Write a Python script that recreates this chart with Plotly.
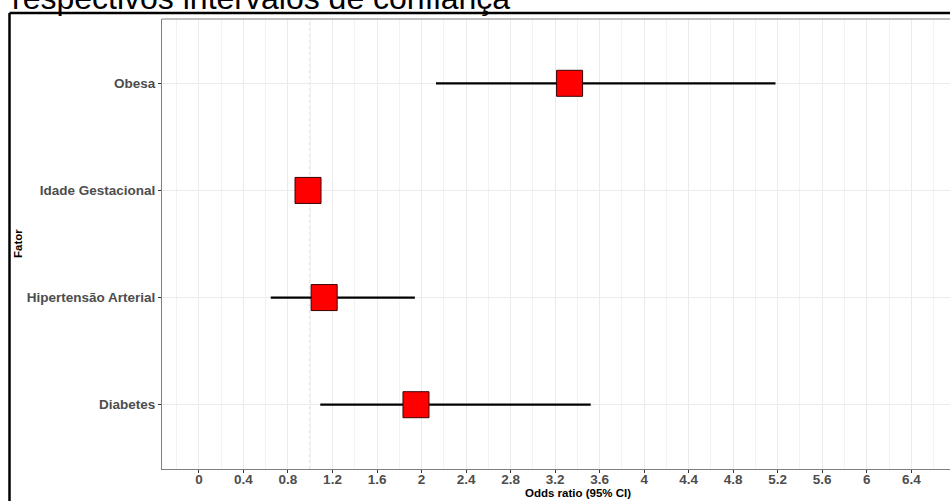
import plotly.graph_objects as go

# ---- data ----
factors = ["Diabetes", "Hipertensão Arterial", "Idade Gestacional", "Obesa"]
odds_ratio = [1.95, 1.125, 0.98, 3.33]
ci_low = [1.09, 0.645, 0.95, 2.13]
ci_high = [3.52, 1.94, 1.02, 5.18]
x_ticks = [0, 0.4, 0.8, 1.2, 1.6, 2, 2.4, 2.8, 3.2, 3.6, 4, 4.4, 4.8, 5.2, 5.6, 6, 6.4]
x_tick_labels = ["0", "0.4", "0.8", "1.2", "1.6", "2", "2.4", "2.8", "3.2", "3.6",
                 "4", "4.4", "4.8", "5.2", "5.6", "6", "6.4"]
title_text = "respectivos intervalos de confiança"
x_title = "Odds ratio (95% CI)"
y_title = "Fator"

W, H = 950, 501
L, R, T, B = 162, 0, 19, 32
pw, ph = W - L - R, H - T - B


def px_x(p):
    return (p - L) / pw


def px_y(p):
    return (H - B - p) / ph


fig = go.Figure()
fig.add_trace(go.Scatter(
    x=odds_ratio, y=factors, mode="markers",
    marker=dict(symbol="square", size=26, color="#ff0000",
                line=dict(color="#3a0000", width=1)),
    error_x=dict(type="data", symmetric=False,
                 array=[h - o for h, o in zip(ci_high, odds_ratio)],
                 arrayminus=[o - l for o, l in zip(odds_ratio, ci_low)],
                 color="black", thickness=2.2, width=0),
    showlegend=False, cliponaxis=False,
))

fig.add_vline(x=1, line=dict(color="#999999", width=1, dash="dot"), layer="below")

font_fam = "Liberation Sans, Arial, sans-serif"
fig.update_layout(
    width=W, height=H,
    margin=dict(l=L, r=R, t=T, b=B),
    paper_bgcolor="white", plot_bgcolor="white",
    font=dict(family=font_fam),
    xaxis=dict(
        range=[-0.332, 6.748], tickvals=x_ticks, ticktext=x_tick_labels,
        showgrid=True, gridcolor="#ebebeb", gridwidth=1,
        minor=dict(dtick=0.2, tick0=0, showgrid=True, gridcolor="#f2f2f2", gridwidth=1),
        showline=True, linecolor="#808080", linewidth=1,
        ticks="outside", ticklen=3, tickcolor="#333333",
        ticklabelstandoff=-5,
        tickfont=dict(family=font_fam, size=13.5, color="#4d4d4d", weight="bold"),
        zeroline=False,
    ),
    yaxis=dict(
        type="category", categoryorder="array", categoryarray=factors,
        range=[-0.6, 3.6],
        showgrid=True, gridcolor="#ebebeb", gridwidth=1,
        showline=True, linecolor="#808080", linewidth=1,
        ticks="outside", ticklen=3, tickcolor="#333333",
        tickfont=dict(family=font_fam, size=13.5, color="#4d4d4d", weight="bold"),
        zeroline=False,
    ),
)

# top panel border
fig.add_shape(type="line", xref="paper", yref="paper", x0=0, x1=1, y0=1, y1=1,
              line=dict(color="#808080", width=1))
# outer black frame (cropped)
fig.add_shape(type="line", xref="paper", yref="paper",
              x0=px_x(9.5), x1=px_x(960), y0=px_y(13), y1=px_y(13),
              line=dict(color="black", width=2.5))
fig.add_shape(type="line", xref="paper", yref="paper",
              x0=px_x(9.5), x1=px_x(9.5), y0=px_y(13), y1=px_y(510),
              line=dict(color="black", width=2.5))

# cropped title
fig.add_annotation(text=title_text, xref="paper", yref="paper",
                   x=px_x(10), y=px_y(18), xanchor="left", yanchor="bottom",
                   showarrow=False, font=dict(family=font_fam, size=32, color="black"))
# axis titles
fig.add_annotation(text=x_title, xref="paper", yref="paper",
                   x=px_x(578), y=px_y(493), xanchor="center", yanchor="middle",
                   showarrow=False,
                   font=dict(family=font_fam, size=11.5, color="black", weight="bold"))
fig.add_annotation(text=y_title, xref="paper", yref="paper",
                   x=px_x(18), y=px_y(244), xanchor="center", yanchor="middle",
                   textangle=-90, showarrow=False,
                   font=dict(family=font_fam, size=11.5, color="black", weight="bold"))

fig.write_html("out.html", config={"displayModeBar": False},
               post_script="document.body.style.margin='0';document.body.style.overflow='hidden';")
